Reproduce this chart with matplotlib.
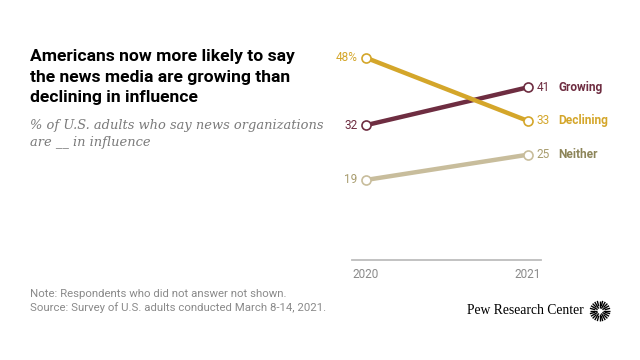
import matplotlib
matplotlib.use("Agg")
import matplotlib.pyplot as plt
import numpy as np

years = [2020, 2021]
series_names = ["Growing", "Declining", "Neither"]
growing = [32, 41]
declining = [48, 33]
neither = [19, 25]
start_labels = ["32", "48%", "19"]
end_labels = ["41", "33", "25"]
year_labels = ["2020", "2021"]

line_colors = ["#6e2d41", "#d4a62a", "#c8bd9c"]
text_colors = ["#6e2d41", "#d4a62a", "#8c8458"]
num_colors = ["#6e2d41", "#d4a62a", "#a89c6e"]

fig = plt.figure(figsize=(6.4, 3.6), dpi=100)
W, H = 640, 360
ax = fig.add_axes([352 / W, 1 - 260 / H, (541 - 352) / W, (260 - 48.5) / H])
ax.set_xlim(2020 - 0.0864, 2021 + 0.08)
ax.set_ylim(0, 50.2)

values = [growing, declining, neither]
order = [2, 0, 1]
for i in order:
    v = values[i]
    ax.plot(years, v, color=line_colors[i], lw=3.2, solid_capstyle="butt", zorder=2 + i)
    ax.plot(years, v, linestyle="none", marker="o", ms=6.5, mfc="white",
            mec=line_colors[i], mew=1.2, zorder=5 + i)
    ax.annotate(start_labels[i], (years[0], v[0]), xytext=(-6, 0), textcoords="offset points",
                ha="right", va="center", fontsize=8.5, color=num_colors[i], family="Roboto")
    ax.annotate(end_labels[i], (years[1], v[1]), xytext=(6, 0), textcoords="offset points",
                ha="left", va="center", fontsize=8.5, color=num_colors[i], family="Roboto")
    ax.annotate(series_names[i], (years[1], v[1]), xytext=(22, 0), textcoords="offset points",
                ha="left", va="center", fontsize=8.6, fontweight="bold", color=text_colors[i],
                family="Roboto")

for s in ["top", "right", "left"]:
    ax.spines[s].set_visible(False)
ax.spines["bottom"].set_color("#bdbdbd")
ax.spines["bottom"].set_linewidth(1.3)
ax.set_yticks([])
ax.set_xticks([])
ax.text(2020 - 0.0864, -1.9, year_labels[0], ha="left", va="top", fontsize=8.5, color="#8a8a8a", family="Roboto")
ax.text(2021 + 0.08, -1.9, year_labels[1], ha="right", va="top", fontsize=8.5, color="#8a8a8a", family="Roboto")

title = "Americans now more likely to say\nthe news media are growing than\ndeclining in influence"
fig.text(30 / W, 1 - 49 / H, title, ha="left", va="top", fontsize=12.6, fontweight="bold",
         color="#000000", family="Roboto", linespacing=1.47)
subtitle = "% of U.S. adults who say news organizations\nare __ in influence"
fig.text(30 / W, 1 - 119 / H, subtitle, ha="left", va="top", fontsize=9.4, style="italic",
         color="#7a7a7a", family="DejaVu Serif", linespacing=1.4)

fig.text(30 / W, 1 - 289 / H, "Note: Respondents who did not answer not shown.\nSource: Survey of U.S. adults conducted March 8-14, 2021.",
         ha="left", va="top", fontsize=8.2, color="#8a8a8a", family="Roboto", linespacing=1.35)
fig.text(584 / W, 1 - 311 / H, "Pew Research Center", ha="right", va="center", fontsize=9.8,
         color="#000000", family="Liberation Serif")

# logo starburst
lax = fig.add_axes([589 / W, 1 - 322 / H, 22 / W, 22 / H])
lax.set_xlim(-1, 1)
lax.set_ylim(-1, 1)
lax.axis("off")
n = 24
for k in range(n):
    a = 2 * np.pi * k / n
    r0 = 0.25 if k % 2 == 0 else 0.45
    lax.plot([r0 * np.cos(a), 0.95 * np.cos(a)], [r0 * np.sin(a), 0.95 * np.sin(a)],
             color="black", lw=1.0, solid_capstyle="butt")

fig.savefig("out.png", dpi=100)
